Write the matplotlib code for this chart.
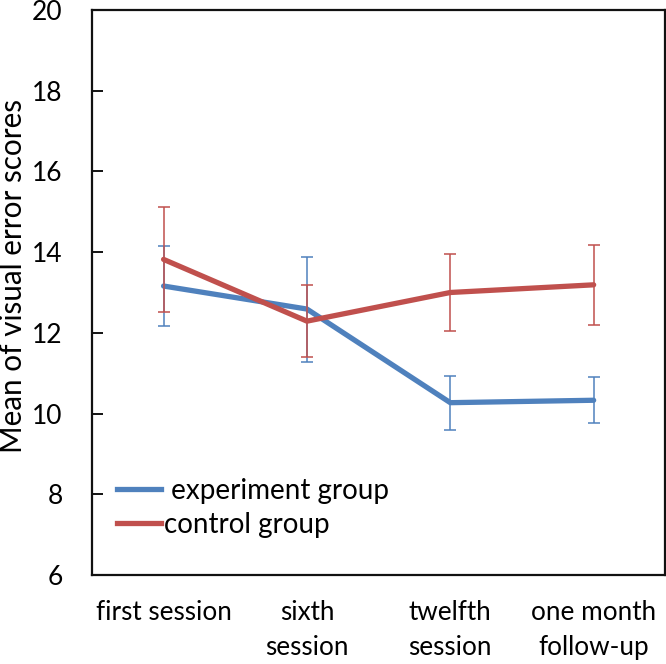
import matplotlib
matplotlib.use("Agg")
import matplotlib.pyplot as plt
from matplotlib.lines import Line2D
import numpy as np

categories = ["first session", "sixth\nsession", "twelfth\nsession", "one month\nfollow-up"]
experiment_mean = [13.16, 12.59, 10.27, 10.33]
experiment_err = [1.0, 1.3, 0.67, 0.57]
control_mean = [13.82, 12.29, 13.0, 13.19]
control_err = [1.3, 0.9, 0.96, 0.99]
yticks = [6, 8, 10, 12, 14, 16, 18, 20]
series_labels = [" experiment group", "control group"]

blue = "#4F81BD"
red = "#C0504D"

fig = plt.figure(figsize=(6.66, 6.64), dpi=100)
ax = fig.add_axes([0.138, 0.134, 0.861, 0.851])
x = np.arange(len(categories))

ax.errorbar(x, experiment_mean, yerr=experiment_err, color=blue, lw=3.8,
            ecolor=blue, elinewidth=1.1, capsize=4, capthick=1.1,
            solid_capstyle="round", zorder=3)
ax.errorbar(x, control_mean, yerr=control_err, color=red, lw=3.8,
            ecolor=red, elinewidth=1.1, capsize=4, capthick=1.1,
            solid_capstyle="round", zorder=4)

ax.set_xlim(-0.5, len(categories) - 0.5)
ax.set_ylim(6, 20)
ax.set_yticks(yticks)
ax.set_yticklabels([str(t) for t in yticks], fontfamily="Lato", fontsize=19)
ax.set_xticks(x)
ax.set_xticklabels(categories, fontfamily="Lato", fontsize=18.8, linespacing=1.5)
ax.tick_params(axis="x", length=0, pad=18)
ax.tick_params(axis="y", direction="in", length=8, width=1.3, pad=21)
for s in ax.spines.values():
    s.set_linewidth(1.6)
    s.set_color("#111111")

ax.set_ylabel("Mean of visual error scores", fontfamily="Lato", fontsize=21.3)
ax.yaxis.set_label_coords(-0.113, 0.529)

handles = [Line2D([], [], color=blue, lw=3.8), Line2D([], [], color=red, lw=3.8)]
leg = ax.legend(handles, series_labels, loc="lower left",
                bbox_to_anchor=(25 / 573, 0.066), borderaxespad=0, borderpad=0,
                frameon=False, prop={"family": "Lato", "size": 20},
                handlelength=1.6, handletextpad=0.1, labelspacing=0.28)

fig.savefig("out.png", dpi=100)
